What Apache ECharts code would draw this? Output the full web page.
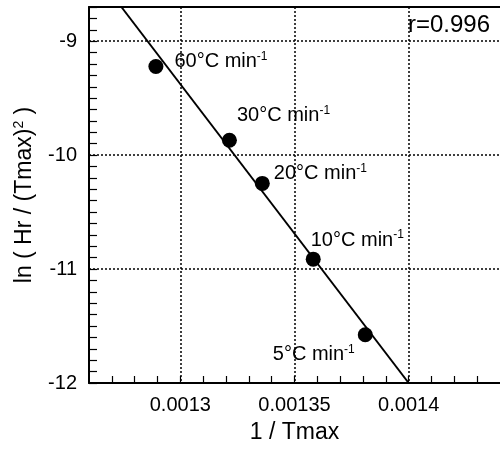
<!DOCTYPE html>
<html>
<head>
<meta charset="utf-8">
<script src="https://cdn.jsdelivr.net/npm/echarts@6/dist/echarts.min.js"></script>
<style>
  html, body { margin: 0; padding: 0; background: #fff; }
  #chart { width: 500px; height: 449px; }
</style>
</head>
<body>
<div id="chart"></div>
<script>
// Heating rates (°C/min) and the Kissinger-type points
const rateLabels = ['60', '30', '20', '10', '5'];
const invTmax = [0.0012893, 0.0013215, 0.0013359, 0.0013582, 0.001381];
const lnHrT2 = [-9.222, -9.870, -10.248, -10.913, -11.576];

// Fitted straight line (end points)
const fitX = [0.0012742, 0.0014];
const fitY = [-8.7, -12];

// Axis ticks
const xTickLabels = [0.0013, 0.00135, 0.0014];
const yTickLabels = [-12, -11, -10, -9];
const corrText = 'r=0.996';

const X_MIN = 0.00126, X_MAX = 0.00144;
const Y_MIN = -12, Y_MAX = -8.7;

// minor tick positions (every 0.00001 on x, every 0.1 on y)
const xMinor = [];
for (let i = 127; i <= 143; i++) xMinor.push(i / 100000);
const yMinor = [];
for (let i = -120; i <= -87; i++) yMinor.push(i / 10);

// label placement around each point
const labelPlace = [
  { position: 'right', offset: [6, -5] },
  { position: 'right', offset: [-5, -25] },
  { position: 'right', offset: [-1, -10] },
  { position: 'right', offset: [-15, -19] },
  { position: 'left', offset: [2, 20] }
];

const FONT = '"Liberation Sans", Arial, Helvetica, sans-serif';
const ink = '#000';

const supRich = {
  a: { fontSize: 20, fontFamily: FONT, color: ink, lineHeight: 22 },
  s: { fontSize: 12, fontFamily: FONT, color: ink, lineHeight: 12, verticalAlign: 'top' }
};

const pointData = invTmax.map((x, i) => ({
  value: [x, lnHrT2[i]],
  label: {
    show: true,
    color: ink,
    position: labelPlace[i].position,
    offset: labelPlace[i].offset,
    distance: 5,
    formatter: '{a|' + rateLabels[i] + '°C min}{s|-1}',
    rich: supRich
  }
}));

const chart = echarts.init(document.getElementById('chart'), null, { renderer: 'canvas' });

const dotted = { color: ink, width: 1.5, type: [2, 2] };

chart.setOption({
  backgroundColor: '#fff',
  animation: false,
  grid: { left: 89, right: -2, top: 7, bottom: 64, containLabel: false },
  xAxis: [
    {
      type: 'value', min: X_MIN, max: X_MAX, position: 'bottom',
      axisLine: { show: true, onZero: false, lineStyle: { color: ink, width: 2 } },
      axisTick: { show: true, inside: true, length: 7, customValues: xMinor, lineStyle: { color: ink, width: 1.2 } },
      axisLabel: { customValues: xTickLabels, color: ink, fontSize: 20, fontFamily: FONT, margin: 12 },
      splitLine: { show: false },
      name: '1 / Tmax', nameLocation: 'middle', nameGap: 38,
      nameTextStyle: { color: ink, fontSize: 23, fontFamily: FONT }
    },
    {
      type: 'value', min: X_MIN, max: X_MAX, position: 'top',
      axisLine: { show: true, onZero: false, lineStyle: { color: ink, width: 2 } },
      axisTick: { show: false, customValues: xTickLabels },
      axisLabel: { show: false },
      splitLine: { show: true, lineStyle: dotted }
    }
  ],
  yAxis: [
    {
      type: 'value', min: Y_MIN, max: Y_MAX, position: 'left',
      axisLine: { show: true, onZero: false, lineStyle: { color: ink, width: 2 } },
      axisTick: { show: true, inside: true, length: 8, customValues: yMinor, lineStyle: { color: ink, width: 1.2 } },
      axisLabel: { customValues: yTickLabels, color: ink, fontSize: 20, fontFamily: FONT, margin: 12 },
      splitLine: { show: false },
      name: '{a|ln ( Hr / (Tmax)}{s|2}{a| )}', nameLocation: 'middle', nameGap: 51, nameRotate: 90,
      nameTextStyle: {
        rich: {
          a: { fontSize: 23, fontFamily: FONT, color: ink, lineHeight: 26 },
          s: { fontSize: 14, fontFamily: FONT, color: ink, lineHeight: 14, verticalAlign: 'top' }
        }
      }
    },
    {
      type: 'value', min: Y_MIN, max: Y_MAX, position: 'right',
      axisLine: { show: false },
      axisTick: { show: false, customValues: yTickLabels },
      axisLabel: { show: false },
      splitLine: { show: true, lineStyle: dotted }
    }
  ],
  graphic: [
    {
      type: 'text', right: 10, top: 13,
      style: { text: corrText, fill: ink, font: '24px ' + FONT }
    }
  ],
  series: [
    {
      type: 'line',
      xAxisIndex: 0, yAxisIndex: 0,
      data: fitX.map((x, i) => [x, fitY[i]]),
      showSymbol: false, symbol: 'none',
      lineStyle: { color: ink, width: 2 },
      z: 3, silent: true
    },
    {
      type: 'scatter',
      xAxisIndex: 0, yAxisIndex: 0,
      data: pointData,
      symbol: 'circle', symbolSize: 15,
      itemStyle: { color: ink, opacity: 1 },
      z: 4
    }
  ]
});
</script>
</body>
</html>
